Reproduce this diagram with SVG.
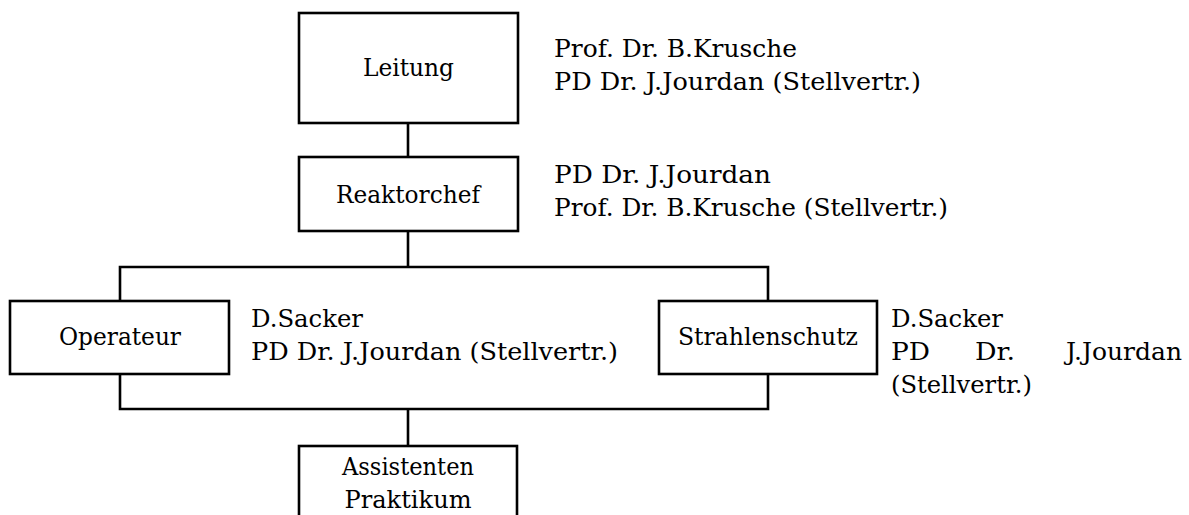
<svg xmlns="http://www.w3.org/2000/svg" width="1189" height="515" viewBox="0 0 1189 515">
  <style>
    .box { fill: #fff; stroke: #000; stroke-width: 2.6; }
    .wire { fill: none; stroke: #000; stroke-width: 2.6; }
    text { font-family: "DejaVu Serif", serif; font-size: 24.5px; fill: #000; }
    .c { text-anchor: middle; }
  </style>
  <rect width="1189" height="515" fill="#fff"/>

  <!-- connectors -->
  <g id="connectors">
    <path class="wire" d="M408,123 V157"/>
    <path class="wire" d="M408,231 V267"/>
    <path class="wire" d="M120,301 V267 H768 V301"/>
    <path class="wire" d="M120,374 V409 H768 V374"/>
    <path class="wire" d="M408,409 V446"/>
  </g>

  <g id="leitung">
    <rect class="box" x="299" y="13" width="219" height="110"/>
    <text class="c" x="408.5" y="76" textLength="91" lengthAdjust="spacingAndGlyphs">Leitung</text>
    <text x="554" y="57" textLength="243" lengthAdjust="spacingAndGlyphs">Prof. Dr. B.Krusche</text>
    <text x="554" y="90" textLength="367" lengthAdjust="spacingAndGlyphs">PD Dr. J.Jourdan (Stellvertr.)</text>
  </g>

  <g id="reaktorchef">
    <rect class="box" x="299" y="157" width="219" height="74"/>
    <text class="c" x="408" y="203" textLength="144" lengthAdjust="spacingAndGlyphs">Reaktorchef</text>
    <text x="554" y="183" textLength="217" lengthAdjust="spacingAndGlyphs">PD Dr. J.Jourdan</text>
    <text x="554" y="216" textLength="394" lengthAdjust="spacingAndGlyphs">Prof. Dr. B.Krusche (Stellvertr.)</text>
  </g>

  <g id="operateur">
    <rect class="box" x="10" y="301" width="219" height="73"/>
    <text class="c" x="120" y="345" textLength="122" lengthAdjust="spacingAndGlyphs">Operateur</text>
    <text x="251" y="327" textLength="112" lengthAdjust="spacingAndGlyphs">D.Sacker</text>
    <text x="251" y="360" textLength="367" lengthAdjust="spacingAndGlyphs">PD Dr. J.Jourdan (Stellvertr.)</text>
  </g>

  <g id="strahlenschutz">
    <rect class="box" x="659" y="301" width="218" height="73"/>
    <text class="c" x="768" y="345" textLength="180" lengthAdjust="spacingAndGlyphs">Strahlenschutz</text>
    <text x="891" y="327" textLength="112" lengthAdjust="spacingAndGlyphs">D.Sacker</text>
    <text x="891" y="360" textLength="39" lengthAdjust="spacingAndGlyphs">PD</text>
    <text x="975" y="360" textLength="40" lengthAdjust="spacingAndGlyphs">Dr.</text>
    <text x="1066" y="360" textLength="116" lengthAdjust="spacingAndGlyphs">J.Jourdan</text>
    <text x="891" y="393" textLength="141" lengthAdjust="spacingAndGlyphs">(Stellvertr.)</text>
  </g>

  <g id="assistenten">
    <rect class="box" x="299" y="446" width="218" height="90"/>
    <text class="c" x="408" y="475" textLength="132" lengthAdjust="spacingAndGlyphs">Assistenten</text>
    <text class="c" x="408" y="508" textLength="127" lengthAdjust="spacingAndGlyphs">Praktikum</text>
  </g>
</svg>
